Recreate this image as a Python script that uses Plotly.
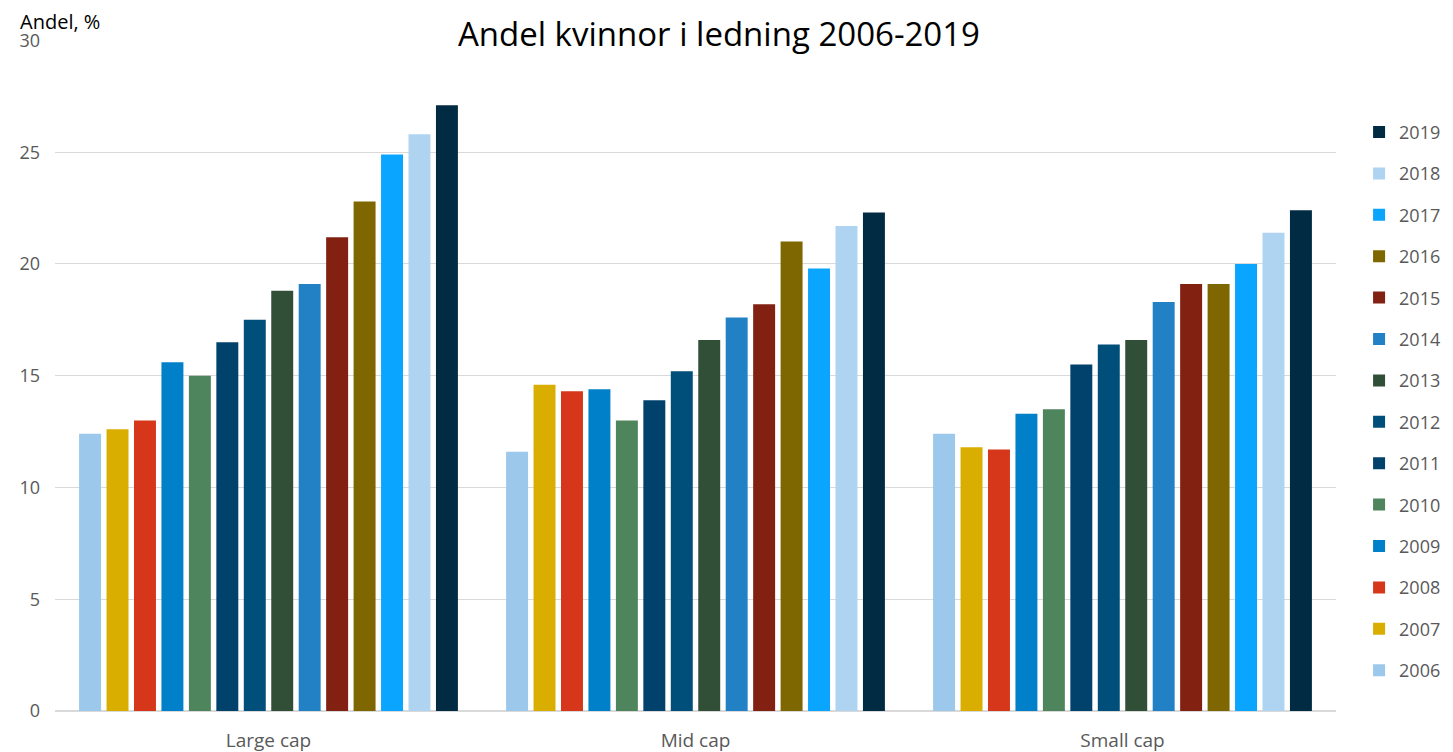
import plotly.graph_objects as go

categories = ["Large cap", "Mid cap", "Small cap"]
years = ["2006", "2007", "2008", "2009", "2010", "2011", "2012",
         "2013", "2014", "2015", "2016", "2017", "2018", "2019"]
v2006 = [12.4, 11.6, 12.4]
v2007 = [12.6, 14.6, 11.8]
v2008 = [13.0, 14.3, 11.7]
v2009 = [15.6, 14.4, 13.3]
v2010 = [15.0, 13.0, 13.5]
v2011 = [16.5, 13.9, 15.5]
v2012 = [17.5, 15.2, 16.4]
v2013 = [18.8, 16.6, 16.6]
v2014 = [19.1, 17.6, 18.3]
v2015 = [21.2, 18.2, 19.1]
v2016 = [22.8, 21.0, 19.1]
v2017 = [24.9, 19.8, 20.0]
v2018 = [25.8, 21.7, 21.4]
v2019 = [27.1, 22.3, 22.4]
values = [v2006, v2007, v2008, v2009, v2010, v2011, v2012,
          v2013, v2014, v2015, v2016, v2017, v2018, v2019]
colors = ["#9BC8EB", "#D9AE00", "#D6361A", "#0080C8", "#4E855C", "#00426C",
          "#004E7A", "#314F37", "#2280C5", "#822012", "#7E6700", "#0AA5FF",
          "#AED4F2", "#002B42"]

fig = go.Figure()
n = len(years)
for i, (yr, vals, col) in enumerate(zip(years, values, colors)):
    fig.add_trace(go.Bar(name=yr, x=categories, y=vals, marker_color=col,
                         marker_line_width=0, legendgroup=yr,
                         legendrank=n - i))

fig.update_layout(
    width=1445, height=744,
    barmode="group", bargap=0.1, bargroupgap=0.2,
    plot_bgcolor="white", paper_bgcolor="white",
    margin=dict(l=47, r=117, t=32, b=41, autoexpand=False),
    font=dict(family="Open Sans", color="#595959", size=18),
    title=dict(text="Andel kvinnor i ledning 2006-2019", x=0.492, xanchor="center",
               y=0.964, yanchor="middle",
               font=dict(size=33, color="black", family="Open Sans")),
    legend=dict(xref="container", x=0.935, xanchor="left",
                y=0.89, yanchor="top",
                traceorder="grouped", tracegroupgap=15, itemwidth=30,
                font=dict(size=18, color="#595959"), bgcolor="rgba(0,0,0,0)"),
    showlegend=True,
)
fig.update_yaxes(range=[0, 30.02], dtick=5, gridcolor="#D9D9D9", gridwidth=1,
                 zeroline=True, zerolinecolor="#D9D9D9", showline=False,
                 ticks="", ticklabelstandoff=14, automargin=False,
                 tickfont=dict(size=18, color="#595959"))
fig.update_xaxes(showline=True, linecolor="#D9D9D9", ticks="",
                 ticklabelstandoff=12, automargin=False,
                 tickfont=dict(size=19, color="#595959"))
fig.add_annotation(text="Andel, %", xref="paper", yref="paper",
                   x=-0.0289, y=1.027, xanchor="left", yanchor="middle",
                   showarrow=False, font=dict(size=20, color="black"))

fig.write_html("out.html")
